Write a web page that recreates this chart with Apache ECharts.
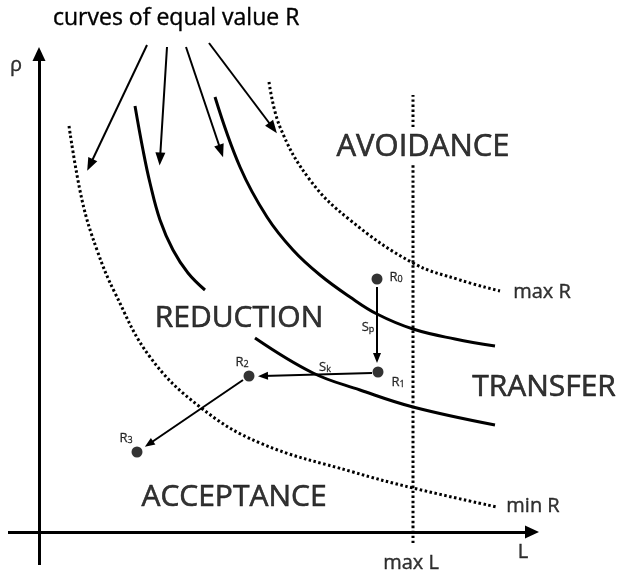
<!DOCTYPE html>
<html>
<head>
<meta charset="utf-8">
<title>Risk curves</title>
<script src="https://cdn.jsdelivr.net/npm/echarts@6/dist/echarts.min.js"></script>
<style>
html, body { margin: 0; padding: 0; background: #fff; }
#chart { width: 619px; height: 570px; }
</style>
</head>
<body>
<div id="chart"></div>
<script type="text/javascript">
// L runs right from the rho axis, rho runs up from the L axis
var minR      = [[30,406],[43,332],[58,282],[76,239],[111,175],[161,125],[221,89],[314,60],[374,44],[458,25]];
var curveAtop = [[96,426],[104,382],[111,349],[121,312],[134,282],[149,259],[166,242]];
var curveAlow = [[216,194],[274,159],[321,142],[374,125],[456,107]];
var curveB    = [[176,435],[201,365],[228,315],[254,282],[281,257],[311,235],[338,218],[374,203],[416,193],[456,186]];
var maxR      = [[230,450],[241,405],[271,352],[311,312],[374,269],[421,252],[461,241]];
var maxLlow   = [[374,-11],[374,367]];
var maxLtop   = [[374,405],[374,437]];

// axes (start, arrow end)
var axisL   = [[-31,0],[493,0]];
var axisRho = [[0,-33],[0,478]];

// risk positions
var riskPoints  = [[338,253],[339,160],[210,156],[98,80]];
var riskIndex   = ['0','1','2','3'];
var riskLabelAt = [[357,255],[359,150],[203,170],[87,94]];

// treatment arrows
var moves       = [[[338,245],[338,174]],[[333,159],[224,156]],[[204,152],[110,88]]];
var moveIndex   = ['p','k'];
var moveLabelAt = [[329,205],[286,165]];

// arrows from the caption to the curves
var pointers = [[[108,487],[51,367]],[[128,485],[121,373]],[[147,485],[182,381]],[[170,489],[234,404]]];

var regionNames = ['AVOIDANCE','REDUCTION','TRANSFER','ACCEPTANCE'];
var regionAt    = [[384,385],[200,214],[505,145],[195,35]];
var regionSize  = [31,30,30,30];

var axisNames  = ['ρ','L','max L','max R','min R'];
var axisNameAt = [[-23,467],[484,-20],[372,-31],[503,240],[494,26]];

var FONT = 'Open Sans';
var dots = [2.5, 2.5];

function curve(data, dashed) {
    return {
        type: 'line', data: data, smooth: 0.4, symbol: 'none', silent: true,
        lineStyle: { color: '#000', width: 3, type: dashed ? dots : 'solid' }
    };
}

function arrows(list, width, head) {
    return {
        type: 'line', data: [], silent: true,
        markLine: {
            silent: true, animation: false,
            symbol: ['none', 'triangle'],
            symbolSize: head,   // [width, length] of every head
            label: { show: false },
            emphasis: { disabled: true },
            lineStyle: { color: '#000', width: width, type: 'solid' },
            data: list.map(function (a) { return [{ coord: a[0] }, { coord: a[1] }]; })
        }
    };
}

function texts(pos, names, sizes, stroke) {
    return {
        type: 'scatter', z: 10, silent: true, symbolSize: 1,
        itemStyle: { color: 'rgba(0,0,0,0)' },
        data: pos.map(function (p, i) {
            return { value: p, name: names[i], label: { fontSize: sizes[i] } };
        }),
        label: {
            show: true, position: 'inside', formatter: '{b}',
            color: '#000', fontFamily: FONT,
            textBorderColor: '#000', textBorderWidth: stroke
        }
    };
}

function subTexts(pos, letter, idx, size) {
    var st = { fontFamily: FONT, color: '#000', verticalAlign: 'bottom',
               textBorderColor: '#000', textBorderWidth: 0.3 };
    return {
        type: 'scatter', z: 10, silent: true, symbolSize: 1,
        itemStyle: { color: 'rgba(0,0,0,0)' },
        data: pos.map(function (p, i) { return { value: p, name: idx[i] }; }),
        label: {
            show: true, position: 'inside',
            formatter: function (p) { return '{m|' + letter + '}{s|' + p.name + '}'; },
            rich: {
                m: Object.assign({ fontSize: size }, st),
                s: Object.assign({ fontSize: Math.round(size * 0.7) }, st)
            }
        }
    };
}

var chart = echarts.init(document.getElementById('chart'));
chart.setOption({
    animation: false,
    backgroundColor: '#fff',
    title: {
        text: 'curves of equal value R',
        left: 53, top: 7, padding: 0,
        textStyle: { fontFamily: FONT, fontSize: 23, fontWeight: 'normal', color: '#000',
                     textBorderColor: '#000', textBorderWidth: 0.4 }
    },
    grid: { left: 0, right: 0, top: 0, bottom: 0 },
    xAxis: { type: 'value', min: -39, max: 580, show: false },
    yAxis: { type: 'value', min: -38, max: 532, show: false },
    series: [
        curve(minR, true),
        curve(curveAtop, false),
        curve(curveAlow, false),
        curve(curveB, false),
        curve(maxR, true),
        curve(maxLlow, true),
        curve(maxLtop, true),
        arrows([axisL, axisRho], 3, [13, 14]),
        arrows(pointers, 2, [10, 13]),
        arrows(moves, 2, [8, 10]),
        { type: 'scatter', data: riskPoints, symbolSize: 11, silent: true, z: 5,
          itemStyle: { color: '#000' } },
        subTexts(riskLabelAt, 'R', riskIndex, 13),
        subTexts(moveLabelAt, 'S', moveIndex, 13),
        texts(regionAt, regionNames, regionSize, 0.6),
        texts(axisNameAt, axisNames, [20, 20, 20, 20, 20], 0.4)
    ]
});
</script>
</body>
</html>
